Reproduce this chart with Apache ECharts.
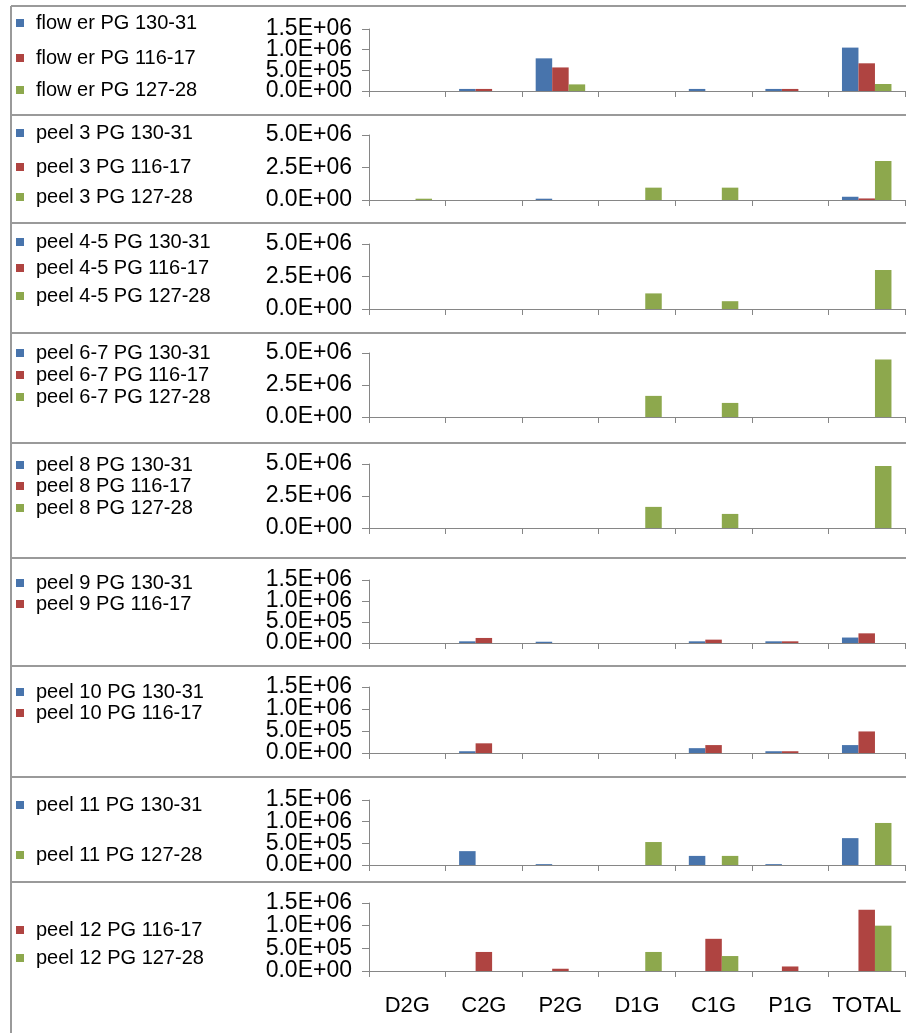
<!DOCTYPE html>
<html>
<head>
<meta charset="utf-8">
<script src="https://cdn.jsdelivr.net/npm/echarts@6/dist/echarts.min.js"></script>
<style>
  html, body { margin: 0; padding: 0; background: #fff; }
  #chart { width: 906px; height: 1033px; }
</style>
</head>
<body>
<div id="chart"></div>
<script>
// ---------- data ----------
const categories = ['D2G', 'C2G', 'P2G', 'D1G', 'C1G', 'P1G', 'TOTAL'];
const seasons = ['PG 130-31', 'PG 116-17', 'PG 127-28'];
const panelLabels = ['flow er', 'peel 3', 'peel 4-5', 'peel 6-7', 'peel 8', 'peel 9', 'peel 10', 'peel 11', 'peel 12'];
const axisMax = [1.5e6, 5e6, 5e6, 5e6, 5e6, 1.5e6, 1.5e6, 1.5e6, 1.5e6];
const axisStep = [5e5, 2.5e6, 2.5e6, 2.5e6, 2.5e6, 5e5, 5e5, 5e5, 5e5];

// values per panel: [PG 130-31, PG 116-17, PG 127-28]; null = series not present
const flower130 = [0, 5e4, 7.9e5, 0, 5e4, 5e4, 1.05e6];
const flower116 = [0, 5e4, 5.7e5, 0, 0, 5e4, 6.7e5];
const flower127 = [0, 0, 1.6e5, 0, 0, 0, 1.7e5];

const peel3_130 = [0, 0, 1e5, 0, 0, 0, 2.5e5];
const peel3_116 = [0, 0, 0, 0, 0, 0, 1.2e5];
const peel3_127 = [1e5, 0, 0, 9.5e5, 9.5e5, 0, 3.0e6];

const peel45_130 = [0, 0, 0, 0, 0, 0, 0];
const peel45_116 = [0, 0, 0, 0, 0, 0, 0];
const peel45_127 = [0, 0, 0, 1.2e6, 6e5, 0, 3.0e6];

const peel67_130 = [0, 0, 0, 0, 0, 0, 0];
const peel67_116 = [0, 0, 0, 0, 0, 0, 0];
const peel67_127 = [0, 0, 0, 1.65e6, 1.1e6, 0, 4.5e6];

const peel8_130 = [0, 0, 0, 0, 0, 0, 0];
const peel8_116 = [0, 0, 0, 0, 0, 0, 0];
const peel8_127 = [0, 0, 0, 1.65e6, 1.1e6, 0, 4.85e6];

const peel9_130 = [0, 4e4, 3e4, 0, 4e4, 4e4, 1.3e5];
const peel9_116 = [0, 1.2e5, 0, 0, 8e4, 4e4, 2.3e5];
const peel9_127 = null;

const peel10_130 = [0, 4e4, 0, 0, 1.1e5, 4e4, 1.8e5];
const peel10_116 = [0, 2.2e5, 0, 0, 1.8e5, 4e4, 4.9e5];
const peel10_127 = null;

const peel11_130 = [0, 3.2e5, 2e4, 0, 2.1e5, 2e4, 6.2e5];
const peel11_116 = null;
const peel11_127 = [0, 0, 0, 5.3e5, 2.1e5, 0, 9.7e5];

const peel12_130 = null;
const peel12_116 = [0, 4.2e5, 5e4, 0, 7.1e5, 1e5, 1.35e6];
const peel12_127 = [0, 0, 0, 4.2e5, 3.3e5, 0, 1.0e6];

const panelValues = [
  [flower130, flower116, flower127],
  [peel3_130, peel3_116, peel3_127],
  [peel45_130, peel45_116, peel45_127],
  [peel67_130, peel67_116, peel67_127],
  [peel8_130, peel8_116, peel8_127],
  [peel9_130, peel9_116, peel9_127],
  [peel10_130, peel10_116, peel10_127],
  [peel11_130, peel11_116, peel11_127],
  [peel12_130, peel12_116, peel12_127]
];

// ---------- layout / style ----------
const colors = ['#4874AC', '#AF4441', '#8DA84D'];
const FONT = "'Liberation Sans', Arial, sans-serif";
const gridTops = [29, 135, 244, 353, 464, 580, 687, 800, 903];
const gridBottoms = [91, 200, 309, 417, 528, 643, 753, 865, 971];
const separators = [6, 115, 223, 333, 443, 558, 666, 777, 882];
// legend row centres per panel, one per series slot (null = no entry)
const legendRows = [
  [23, 58, 90],
  [133, 167, 197],
  [242, 268, 296],
  [353, 375, 397],
  [465, 486, 508],
  [583, 604, null],
  [692, 713, null],
  [805, null, 855],
  [null, 930, 958]
];

function sci(v) {
  if (v === 0) return '0.0E+00';
  const e = Math.floor(Math.log10(v) + 1e-9);
  const m = (v / Math.pow(10, e)).toFixed(1);
  return m + 'E+' + String(e).padStart(2, '0');
}

const grids = [], xAxes = [], yAxes = [], series = [], legends = [], graphics = [];
const axisGrey = '#868686';

panelValues.forEach((vals, p) => {
  grids.push({ left: 369, right: 1, top: gridTops[p], height: gridBottoms[p] - gridTops[p] });
  const last = p === panelValues.length - 1;
  xAxes.push({
    type: 'category', gridIndex: p, data: categories,
    axisLine: { lineStyle: { color: axisGrey, width: 1 } },
    axisTick: { show: true, length: 6, lineStyle: { color: axisGrey } },
    axisLabel: { show: last, color: '#000', fontSize: 22, fontFamily: FONT, margin: 24, interval: 0 },
    splitLine: { show: false }
  });
  // two stacked value axes share the scale; each labels every other tick so
  // neighbouring labels never get dropped by the overlap check
  [0, 1].forEach(parity => {
    yAxes.push({
      type: 'value', gridIndex: p, position: 'left', offset: 0,
      min: 0, max: axisMax[p], interval: axisStep[p],
      axisLine: { show: parity === 0, lineStyle: { color: axisGrey, width: 1 } },
      axisTick: { show: parity === 0, length: 7, lineStyle: { color: axisGrey } },
      axisLabel: {
        margin: 17, hideOverlap: false, color: '#000', fontSize: 23, fontFamily: FONT,
        formatter: v => (Math.round(v / axisStep[p]) % 2 === parity ? sci(v) : '')
      },
      splitLine: { show: false }
    });
  });
  vals.forEach((arr, s) => {
    const name = panelLabels[p] + ' ' + seasons[s];
    series.push({
      type: 'bar', name: name, xAxisIndex: p, yAxisIndex: 2 * p,
      data: arr ? arr : categories.map(() => null),
      barWidth: 16.5, barGap: '0%',
      itemStyle: { color: colors[s] },
      silent: true, animation: false
    });
    const ly = legendRows[p][s];
    if (arr && ly !== null) {
      legends.push({
        data: [name], left: 16, top: ly - 10, padding: 0,
        itemWidth: 8, itemHeight: 8, icon: 'rect',
        textStyle: { color: '#000', fontSize: 20, fontFamily: FONT, lineHeight: 20, padding: [0, 0, 0, 7] },
        selectedMode: false
      });
    }
  });
});

// panel frames
separators.forEach(y => {
  graphics.push({ type: 'line', shape: { x1: 11, y1: y, x2: 906, y2: y }, style: { stroke: '#9a9a9a', lineWidth: 2 }, silent: true });
});
graphics.push({ type: 'line', shape: { x1: 11, y1: 6, x2: 11, y2: 1033 }, style: { stroke: '#9a9a9a', lineWidth: 2 }, silent: true });

const chart = echarts.init(document.getElementById('chart'), null, { renderer: 'canvas' });
chart.setOption({
  animation: false,
  backgroundColor: '#fff',
  grid: grids,
  xAxis: xAxes,
  yAxis: yAxes,
  legend: legends,
  series: series,
  graphic: graphics
});
</script>
</body>
</html>
